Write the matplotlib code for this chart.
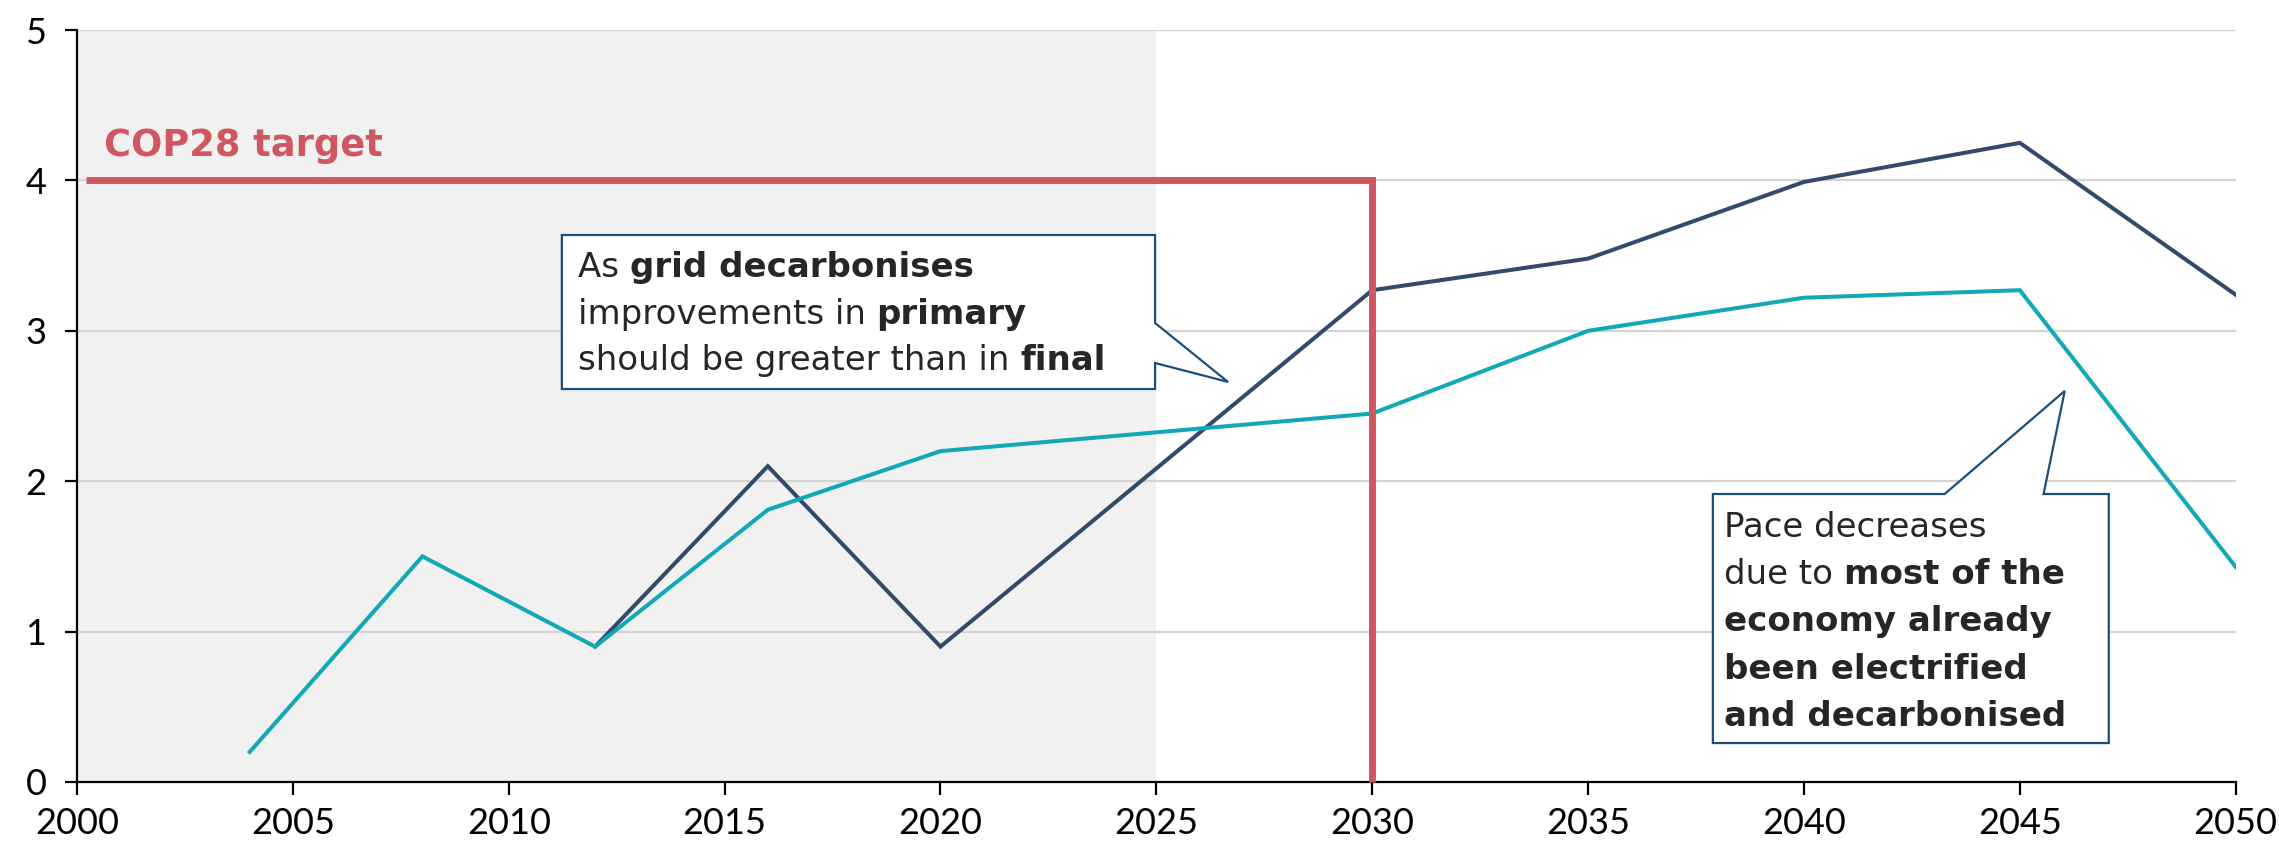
import matplotlib
matplotlib.use("Agg")
import matplotlib.pyplot as plt
from matplotlib.patches import Polygon
from matplotlib.offsetbox import TextArea, HPacker, AnnotationBbox

# Data
years_primary = [2012, 2016, 2020, 2030, 2035, 2040, 2045, 2050]
primary = [0.9, 2.1, 0.9, 3.27, 3.48, 3.99, 4.25, 3.24]
years_final = [2004, 2008, 2012, 2016, 2020, 2030, 2035, 2040, 2045, 2050]
final = [0.2, 1.5, 0.9, 1.81, 2.2, 2.45, 3.0, 3.22, 3.27, 1.43]
target_value = 4
target_year = 2030
history_end = 2025
x_ticks = [2000, 2005, 2010, 2015, 2020, 2025, 2030, 2035, 2040, 2045, 2050]
y_ticks = [0, 1, 2, 3, 4, 5]

NAVY = "#324a6b"
TEAL = "#10a9b5"
RED = "#cf5860"
BOX_EDGE = "#1a4f7b"
TEXT = "#262626"
TICK_FONT = "Lato"
NOTE_FONT = "DejaVu Sans"

plt.rcParams["font.family"] = [TICK_FONT, "DejaVu Sans"]

fig = plt.figure(figsize=(22.79, 8.51), dpi=100)
ax = fig.add_axes([0.0338, 0.0811, 0.9472, 0.8836])
ax.set_xlim(2000, 2050)
ax.set_ylim(0, 5)

# Historical period shading
ax.axvspan(2000, history_end, color="#f1f1f1", zorder=0, lw=0)

ax.set_yticks(y_ticks)
ax.set_xticks(x_ticks)
ax.yaxis.grid(True, color="#d4d4d4", lw=1.6, zorder=0.5)
ax.set_axisbelow(True)
for s in ["top", "right"]:
    ax.spines[s].set_visible(False)
for s in ["left", "bottom"]:
    ax.spines[s].set_linewidth(1.6)
    ax.spines[s].set_color("black")
ax.tick_params(axis="both", direction="out", length=9, width=1.6,
               labelsize=26, colors="black")
ax.tick_params(axis="x", pad=9)
ax.tick_params(axis="y", pad=13)

# Series
ax.plot(years_primary, primary, color=NAVY, lw=2.9, zorder=3,
        solid_joinstyle="miter")
ax.plot(years_final, final, color=TEAL, lw=2.9, zorder=4,
        solid_joinstyle="miter")

# COP28 target bracket
ax.plot([2000.2, target_year, target_year], [target_value, target_value, 0],
        color=RED, lw=5, zorder=6, solid_joinstyle="miter",
        solid_capstyle="butt", clip_on=False)
ax.text(2000.62, 4.235, "COP28 target", color=RED, fontsize=26.5,
        fontweight="bold", family=NOTE_FONT, ha="left", va="center",
        zorder=7)


def callout(points, lines, x_left, y_first, dy):
    poly = Polygon(points, closed=True, facecolor="white",
                   edgecolor=BOX_EDGE, lw=1.6, zorder=8, joinstyle="miter")
    ax.add_patch(poly)
    for i, parts in enumerate(lines):
        areas = []
        for txt, bold in parts:
            areas.append(TextArea(txt, textprops=dict(
                fontsize=24.5, color=TEXT, family=NOTE_FONT,
                fontweight="bold" if bold else "normal")))
        pack = HPacker(children=areas, align="baseline", pad=0, sep=0)
        ab = AnnotationBbox(pack, (x_left, y_first - i * dy),
                            xycoords="data", box_alignment=(0, 0.5),
                            frameon=False, pad=0, zorder=9)
        ax.add_artist(ab)


callout(
    [(2011.23, 3.637), (2024.97, 3.637), (2024.97, 3.052), (2026.66, 2.66),
     (2024.97, 2.786), (2024.97, 2.613), (2011.23, 2.613)],
    [[("As ", False), ("grid decarbonises", True)],
     [("improvements in ", False), ("primary", True)],
     [("should be greater than in ", False), ("final", True)]],
    2011.6, 3.42, 0.31)

callout(
    [(2037.89, 1.915), (2043.26, 1.915), (2046.04, 2.60), (2045.55, 1.915),
     (2047.06, 1.915), (2047.06, 0.259), (2037.89, 0.259)],
    [[("Pace decreases", False)],
     [("due to ", False), ("most of the", True)],
     [("economy already", True)],
     [("been electrified", True)],
     [("and decarbonised", True)]],
    2038.15, 1.69, 0.313)

fig.savefig("out.png", dpi=100)
